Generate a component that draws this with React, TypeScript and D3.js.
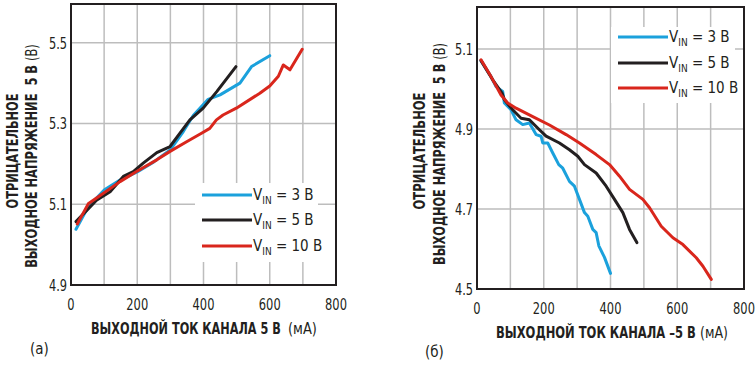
import * as d3 from 'd3';
import React, { useLayoutEffect, useRef, useState } from 'react';

// Chart (a): +5 V channel, mA vs V
const posVin3: [number, number][] = [
  [15, 5.038], [52, 5.094], [101, 5.136], [148, 5.16], [200, 5.18], [250, 5.205],
  [300, 5.235], [339, 5.28], [369, 5.32], [414, 5.36], [450, 5.371], [510, 5.4],
  [545, 5.441], [600, 5.468],
];
const posVin5: [number, number][] = [
  [15, 5.057], [77, 5.11], [118, 5.131], [158, 5.169], [188, 5.181], [218, 5.202],
  [259, 5.228], [299, 5.243], [329, 5.276], [359, 5.309], [399, 5.338], [440, 5.379],
  [498, 5.441],
];
const posVin10: [number, number][] = [
  [19, 5.051], [52, 5.101], [87, 5.121], [148, 5.156], [198, 5.181], [259, 5.21],
  [299, 5.231], [349, 5.255], [394, 5.276], [419, 5.288], [439, 5.309], [459, 5.321],
  [499, 5.338], [570, 5.375], [600, 5.393], [626, 5.417], [641, 5.445], [661, 5.433],
  [698, 5.484],
];

// Chart (б): -5 V channel
const negVin3: [number, number][] = [
  [12, 5.071], [42, 5.031], [57, 5.006], [77, 4.994], [82, 4.965], [102, 4.948],
  [117, 4.923], [137, 4.911], [157, 4.915], [177, 4.886], [192, 4.882], [197, 4.865],
  [212, 4.865], [227, 4.84], [245, 4.811], [257, 4.802], [277, 4.769], [292, 4.757],
  [307, 4.724], [322, 4.691], [332, 4.682], [347, 4.649], [357, 4.641], [365, 4.608],
  [382, 4.579], [400, 4.539],
];
const negVin5: [number, number][] = [
  [12, 5.071], [47, 5.023], [75, 4.99], [82, 4.973], [107, 4.948], [132, 4.927],
  [157, 4.923], [187, 4.898], [207, 4.882], [247, 4.865], [277, 4.848], [302, 4.832],
  [322, 4.811], [357, 4.79], [387, 4.757], [412, 4.724], [437, 4.691], [457, 4.649],
  [479, 4.616],
];
const negVin10: [number, number][] = [
  [12, 5.073], [42, 5.031], [72, 4.985], [92, 4.965], [117, 4.952], [167, 4.931],
  [217, 4.91], [267, 4.886], [307, 4.865], [357, 4.836], [397, 4.811], [427, 4.782],
  [457, 4.749], [497, 4.724], [517, 4.703], [552, 4.657], [587, 4.628], [617, 4.611],
  [657, 4.578], [677, 4.557], [702, 4.524],
];

const seriesNames = ['3', '5', '10'];
const seriesColors = ['#1ba1dc', '#231f20', '#d9261c'];
const xTicks = [0, 200, 400, 600, 800];
const xGrid = [100, 200, 300, 400, 500, 600, 700];
const posYTicks = [4.9, 5.1, 5.3, 5.5];
const negYTicks = [4.5, 4.7, 4.9, 5.1];

const FONT = "'Liberation Sans Narrow', 'DejaVu Sans Condensed', 'Roboto Condensed', Arial, sans-serif";
const INK = '#231f20';

// condensed label width: ~7.3px per digit, 3.5px per dot
const labelLen = (s: string) => s.split('').reduce((a, c) => a + (c === '.' ? 3.5 : 7.3), 0);

// text squeezed horizontally to a given width (the reference font is condensed)
function FitText({
  x,
  y,
  width,
  anchor = 'start',
  rotate = 0,
  fontSize,
  fontWeight,
  children,
}: {
  x: number;
  y: number;
  width: number;
  anchor?: 'start' | 'middle' | 'end';
  rotate?: number;
  fontSize: number;
  fontWeight?: string;
  children: React.ReactNode;
}) {
  const ref = useRef<SVGTextElement>(null);
  const [sx, setSx] = useState(1);
  useLayoutEffect(() => {
    if (!ref.current) return;
    const w = ref.current.getComputedTextLength();
    if (w > 0) setSx(width / w);
  }, [width]);
  return (
    <text
      ref={ref}
      transform={`translate(${x},${y}) rotate(${rotate}) scale(${sx},1)`}
      dy="0.36em"
      textAnchor={anchor}
      fontSize={fontSize}
      fontWeight={fontWeight}
    >
      {children}
    </text>
  );
}

type PanelProps = {
  left: number;
  right: number;
  top: number;
  bottom: number;
  yDomain: [number, number];
  yTicks: number[];
  series: [number, number][][];
  legend: { x0: number; x1: number; y0: number; y1: number; rows: number[] };
  xTitle: string;
  xTitleY: number;
  xTitleSpan: [number, number, number, number]; // bold start/end, unit start/end
  yTitleX: [number, number];
  yTitleCenter: [number, number];
  yTitleLen: [number, number];
  tag: string;
  tagX: number;
  tagY: number;
};

function Panel(p: PanelProps) {
  const x = d3.scaleLinear().domain([0, 800]).range([p.left, p.right]);
  const y = d3.scaleLinear().domain(p.yDomain).range([p.bottom, p.top]);
  const line = d3
    .line<[number, number]>()
    .x(d => x(d[0]))
    .y(d => y(d[1]));

  const lg = p.legend;
  const [b0, b1, u0, u1] = p.xTitleSpan;

  return (
    <g fontFamily={FONT} fill={INK}>
      {/* grid */}
      {xGrid.map(v => (
        <line key={'gx' + v} x1={x(v)} x2={x(v)} y1={p.top} y2={p.bottom} stroke="#bdbdbd" strokeWidth={1.5} />
      ))}
      {p.yTicks.slice(1).map(v => (
        <line key={'gy' + v} x1={p.left} x2={p.right} y1={y(v)} y2={y(v)} stroke="#bdbdbd" strokeWidth={1.5} />
      ))}

      {/* legend background */}
      <rect x={lg.x0} y={lg.y0} width={lg.x1 - lg.x0} height={lg.y1 - lg.y0} fill="white" />

      {p.series.map((s, i) => (
        <path
          key={i}
          d={line(s) ?? ''}
          fill="none"
          stroke={seriesColors[i]}
          strokeWidth={3}
          strokeLinejoin="round"
          strokeLinecap="round"
        />
      ))}

      {/* legend */}
      {seriesNames.map((name, i) => (
        <g key={name}>
          <line x1={lg.x0 + 7} x2={lg.x0 + 57} y1={lg.rows[i]} y2={lg.rows[i]} stroke={seriesColors[i]} strokeWidth={3} />
          <text x={lg.x0 + 58} y={lg.rows[i] + 5} fontSize={15}>
            <tspan>V</tspan>
            <tspan fontSize={10} dy={4}>IN</tspan>
            <tspan dy={-4}>{` = ${name} В`}</tspan>
          </text>
        </g>
      ))}

      {/* frame */}
      <rect x={p.left} y={p.top} width={p.right - p.left} height={p.bottom - p.top} fill="none" stroke={INK} strokeWidth={2} />

      {/* tick labels */}
      {p.yTicks.map(v => (
        <FitText key={'ty' + v} x={p.left - 4} y={y(v)} anchor="end" fontSize={16} width={labelLen(v.toFixed(1))}>
          {v.toFixed(1)}
        </FitText>
      ))}
      {xTicks.map(v => (
        <FitText key={'tx' + v} x={x(v)} y={p.bottom + 19} anchor="middle" fontSize={16} width={labelLen(String(v))}>
          {v}
        </FitText>
      ))}

      {/* axis titles */}
      <FitText x={b0} y={p.xTitleY} fontSize={16} fontWeight="bold" width={b1 - b0}>
        {p.xTitle}
      </FitText>
      <FitText x={u0} y={p.xTitleY} fontSize={16} width={u1 - u0}>
        (мА)
      </FitText>
      <FitText
        x={p.yTitleX[0]}
        y={p.yTitleCenter[0]}
        rotate={-90}
        anchor="middle"
        fontSize={16}
        fontWeight="bold"
        width={p.yTitleLen[0]}
      >
        ОТРИЦАТЕЛЬНОЕ
      </FitText>
      <FitText x={p.yTitleX[1]} y={p.yTitleCenter[1]} rotate={-90} anchor="middle" fontSize={16} width={p.yTitleLen[1]}>
        <tspan fontWeight="bold">{'ВЫХОДНОЕ НАПРЯЖЕНИЕ\u00a0\u00a05 В '}</tspan>
        <tspan>(В)</tspan>
      </FitText>

      <text x={p.tagX} y={p.tagY} dy="0.36em" fontSize={15}>
        {p.tag}
      </text>
    </g>
  );
}

export default function App() {
  return (
    <svg width={756} height={367} style={{ position: 'absolute', left: 0, top: 0, background: 'white' }}>
      <Panel
        left={71}
        right={336}
        top={4}
        bottom={285}
        yDomain={[4.9, 5.596]}
        yTicks={posYTicks}
        series={[posVin3, posVin5, posVin10]}
        legend={{ x0: 195, x1: 318, y0: 183, y1: 262, rows: [195, 220, 246] }}
        xTitle="ВЫХОДНОЙ ТОК КАНАЛА 5 В"
        xTitleY={328}
        xTitleSpan={[91, 281, 288, 317]}
        yTitleX={[12, 31]}
        yTitleCenter={[151, 156]}
        yTitleLen={[115, 224]}
        tag="(а)"
        tagX={30}
        tagY={349}
      />
      <Panel
        left={477}
        right={744}
        top={7}
        bottom={289}
        yDomain={[4.5, 5.205]}
        yTicks={negYTicks}
        series={[negVin3, negVin5, negVin10]}
        legend={{ x0: 611, x1: 735, y0: 27, y1: 103, rows: [37, 63, 88] }}
        xTitle="ВЫХОДНОЙ ТОК КАНАЛА –5 В"
        xTitleY={332}
        xTitleSpan={[496, 696, 700, 728]}
        yTitleX={[419, 439]}
        yTitleCenter={[151, 154]}
        yTitleLen={[117, 222]}
        tag="(б)"
        tagX={425}
        tagY={352}
      />
    </svg>
  );
}
